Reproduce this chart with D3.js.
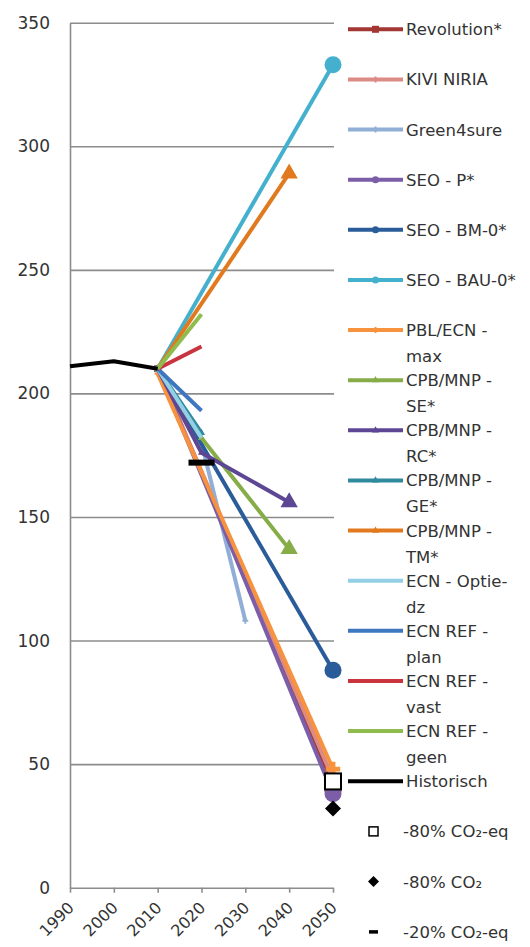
<!DOCTYPE html>
<html><head><meta charset="utf-8">
<script src="https://cdn.jsdelivr.net/npm/d3@7"></script>
<style>
html,body{margin:0;padding:0;background:#fff;}
svg{display:block;font-family:"DejaVu Sans",sans-serif;}
</style></head>
<body>
<script>
// ---------- data ----------
const years = [1990, 2000, 2010, 2020, 2030, 2040, 2050];
const yTicks = [0, 50, 100, 150, 200, 250, 300, 350];

const revolution   = [null, null, 210, null, null, null, 42];
const kiviNiria    = [null, null, 210, null, null, null, 44];
const green4sure   = [null, null, 210, 180, 108, null, null];
const seoP         = [null, null, 210, null, null, null, 38];
const seoBM0       = [null, null, 210, null, null, null, 88];
const seoBAU0      = [null, null, 210, null, null, null, 333];
const pblEcnMax    = [null, null, 208, null, null, null, 48];
const cpbSE        = [null, null, 210, 182, null, 137, null];
const cpbRC        = [null, null, 210, 176, null, 156, null];
const cpbGE        = [null, null, 210, 184, null, null, null];
const cpbTM        = [null, null, 210, null, null, 289, null];
const ecnOptieDz   = [null, null, 210, 182, null, null, null];
const ecnRefPlan   = [null, null, 210, 193, null, null, null];
const ecnRefVast   = [null, null, 210, 219, null, null, null];
const ecnRefGeen   = [null, null, 210, 232, null, null, null];
const historisch   = [211, 213, 210, null, null, null, null];
const target80eq   = [null, null, null, null, null, null, 43];
const target80co2  = [null, null, null, null, null, null, 32];
const target20eq   = [null, null, null, 172, null, null, null];

const seriesNames = [
  ["Revolution*"], ["KIVI NIRIA"], ["Green4sure"], ["SEO - P*"], ["SEO - BM-0*"], ["SEO - BAU-0*"],
  ["PBL/ECN -", "max"], ["CPB/MNP -", "SE*"], ["CPB/MNP -", "RC*"], ["CPB/MNP -", "GE*"], ["CPB/MNP -", "TM*"],
  ["ECN - Optie-", "dz"], ["ECN REF -", "plan"], ["ECN REF -", "vast"], ["ECN REF -", "geen"], ["Historisch"]
];
const targetNames = ["-80% CO₂-eq", "-80% CO₂", "-20% CO₂-eq"];

// ---------- styles ----------
const seriesData = [revolution, kiviNiria, green4sure, seoP, seoBM0, seoBAU0, pblEcnMax, cpbSE, cpbRC, cpbGE, cpbTM, ecnOptieDz, ecnRefPlan, ecnRefVast, ecnRefGeen, historisch];
const seriesStyle = [
  {c:"#a23733", m:"square"},
  {c:"#dc8a86", m:"cross"},
  {c:"#90aed6", m:"cross"},
  {c:"#7b5ea7", m:"circle"},
  {c:"#2a5c9a", m:"circle"},
  {c:"#45b0cd", m:"circle"},
  {c:"#f7923f", m:"cross"},
  {c:"#86ad48", m:"triangle"},
  {c:"#5d4693", m:"triangle"},
  {c:"#2f8a9e", m:"triangle"},
  {c:"#e17a1e", m:"triangle"},
  {c:"#93d0e6", m:null},
  {c:"#3f76c0", m:null},
  {c:"#c9343f", m:null},
  {c:"#8fbc4c", m:null},
  {c:"#000000", m:null}
];
const targetData = [target80eq, target80co2, target20eq];
const targetStyle = ["box", "diamond", "dash"];

const W = 530, H = 947;
const svg = d3.select("body").append("svg").attr("width", W).attr("height", H);

const x = d3.scalePoint().domain(years).range([70, 333]);
const y = d3.scaleLinear().domain([0, 350]).range([887.7, 22.7]);

// gridlines
svg.append("g")
  .attr("transform", "translate(70,0)")
  .call(d3.axisLeft(y).tickValues(yTicks.filter(v => v > 0)).tickSize(-264).tickFormat(""))
  .call(g => g.select(".domain").remove())
  .call(g => g.selectAll("line").attr("stroke", "#8c8c8c").attr("stroke-width", 1.6));

// y labels
svg.append("g")
  .attr("transform", "translate(70,0)")
  .call(d3.axisLeft(y).tickValues(yTicks).tickSize(0).tickPadding(20))
  .call(g => g.select(".domain").attr("stroke", "#8c8c8c").attr("stroke-width", 1.6))
  .call(g => g.selectAll("text").attr("font-size", 17).attr("fill", "#333").attr("font-family", "DejaVu Sans"));

// x axis
svg.append("g")
  .attr("transform", `translate(0,${y(0)})`)
  .call(d3.axisBottom(x).tickSize(5).tickSizeOuter(0).tickFormat(""))
  .call(g => g.select(".domain").attr("stroke", "#8c8c8c").attr("stroke-width", 1.6))
  .call(g => g.selectAll("line").attr("stroke", "#8c8c8c").attr("stroke-width", 1.6));

svg.append("g").selectAll("text").data(years).join("text")
  .attr("transform", d => `translate(${x(d) + 5},${y(0) + 21}) rotate(-45)`)
  .attr("text-anchor", "end")
  .attr("font-size", 16)
  .attr("fill", "#333")
  .text(d => d);

const line = d3.line().x(d => x(d.year)).y(d => y(d.v));

function markerPath(type, size) {
  const s = size, h = s / 2;
  switch (type) {
    case "square": return d3.symbol(d3.symbolSquare, s * s)();
    case "circle": return d3.symbol(d3.symbolCircle, Math.PI * h * h)();
    case "triangle": return d3.symbol(d3.symbolTriangle, s * s * 0.45)();
    case "diamond": return `M0,${-h}L${h},0L0,${h}L${-h},0Z`;
    case "cross": return d3.symbol(d3.symbolCross, s * s * 0.4)();
  }
  return null;
}

const plot = svg.append("g");
seriesData.forEach((arr, i) => {
  const pts = years.map((yr, j) => ({year: yr, v: arr[j]})).filter(p => p.v != null);
  const st = seriesStyle[i];
  plot.append("path").datum(pts)
    .attr("d", line).attr("fill", "none")
    .attr("stroke", st.c).attr("stroke-width", 4).attr("stroke-linejoin", "round");
  if (st.m) {
    const last = pts[pts.length - 1];
    plot.selectAll(null).data(pts).join("path")
      .attr("transform", p => `translate(${x(p.year)},${y(p.v)})`)
      .attr("d", p => markerPath(st.m, p === last && p.year >= 2040 ? 17 : 7))
      .attr("fill", st.c);
  }
});

// targets
targetData.forEach((arr, i) => {
  const pts = years.map((yr, j) => ({year: yr, v: arr[j]})).filter(p => p.v != null);
  const t = targetStyle[i];
  pts.forEach(p => {
    const cx = x(p.year), cy = y(p.v);
    if (t === "box") {
      plot.append("rect").attr("x", cx - 8).attr("y", cy - 8).attr("width", 16).attr("height", 16)
        .attr("fill", "#fff").attr("stroke", "#000").attr("stroke-width", 2);
    } else if (t === "diamond") {
      plot.append("path").attr("transform", `translate(${cx},${cy})`).attr("d", markerPath("diamond", 16)).attr("fill", "#000");
    } else {
      plot.append("rect").attr("x", cx - 13).attr("y", cy - 3).attr("width", 26).attr("height", 6).attr("fill", "#000");
    }
  });
});

// legend
const lg = svg.append("g");
const rowY = i => 29.3 + 50.13 * i;
seriesNames.forEach((name, i) => {
  const st = seriesStyle[i];
  const yy = rowY(i);
  lg.append("line").attr("x1", 348).attr("x2", 403).attr("y1", yy).attr("y2", yy)
    .attr("stroke", st.c).attr("stroke-width", 4);
  if (st.m) {
    lg.append("path").attr("transform", `translate(375.5,${yy})`).attr("d", markerPath(st.m, 7)).attr("fill", st.c);
  }
  const t = lg.append("text").attr("x", 406).attr("y", yy + 6).attr("font-size", 16.5).attr("fill", "#333");
  name.forEach((ln, k) => t.append("tspan").attr("x", 406).attr("dy", k === 0 ? 0 : 26).text(ln));
});
targetNames.forEach((name, i) => {
  const yy = rowY(seriesNames.length + i);
  const t = targetStyle[i];
  if (t === "box") {
    lg.append("rect").attr("x", 369).attr("y", yy - 4.5).attr("width", 9).attr("height", 9)
      .attr("fill", "#fff").attr("stroke", "#000").attr("stroke-width", 1.5);
  } else if (t === "diamond") {
    lg.append("path").attr("transform", `translate(373.5,${yy})`).attr("d", markerPath("diamond", 11)).attr("fill", "#000");
  } else {
    lg.append("rect").attr("x", 369).attr("y", yy - 1.5).attr("width", 9).attr("height", 3.5).attr("fill", "#000");
  }
  lg.append("text").attr("x", 403).attr("y", yy + 6).attr("font-size", 16.5).attr("fill", "#333").text(name);
});
</script>
</body></html>
